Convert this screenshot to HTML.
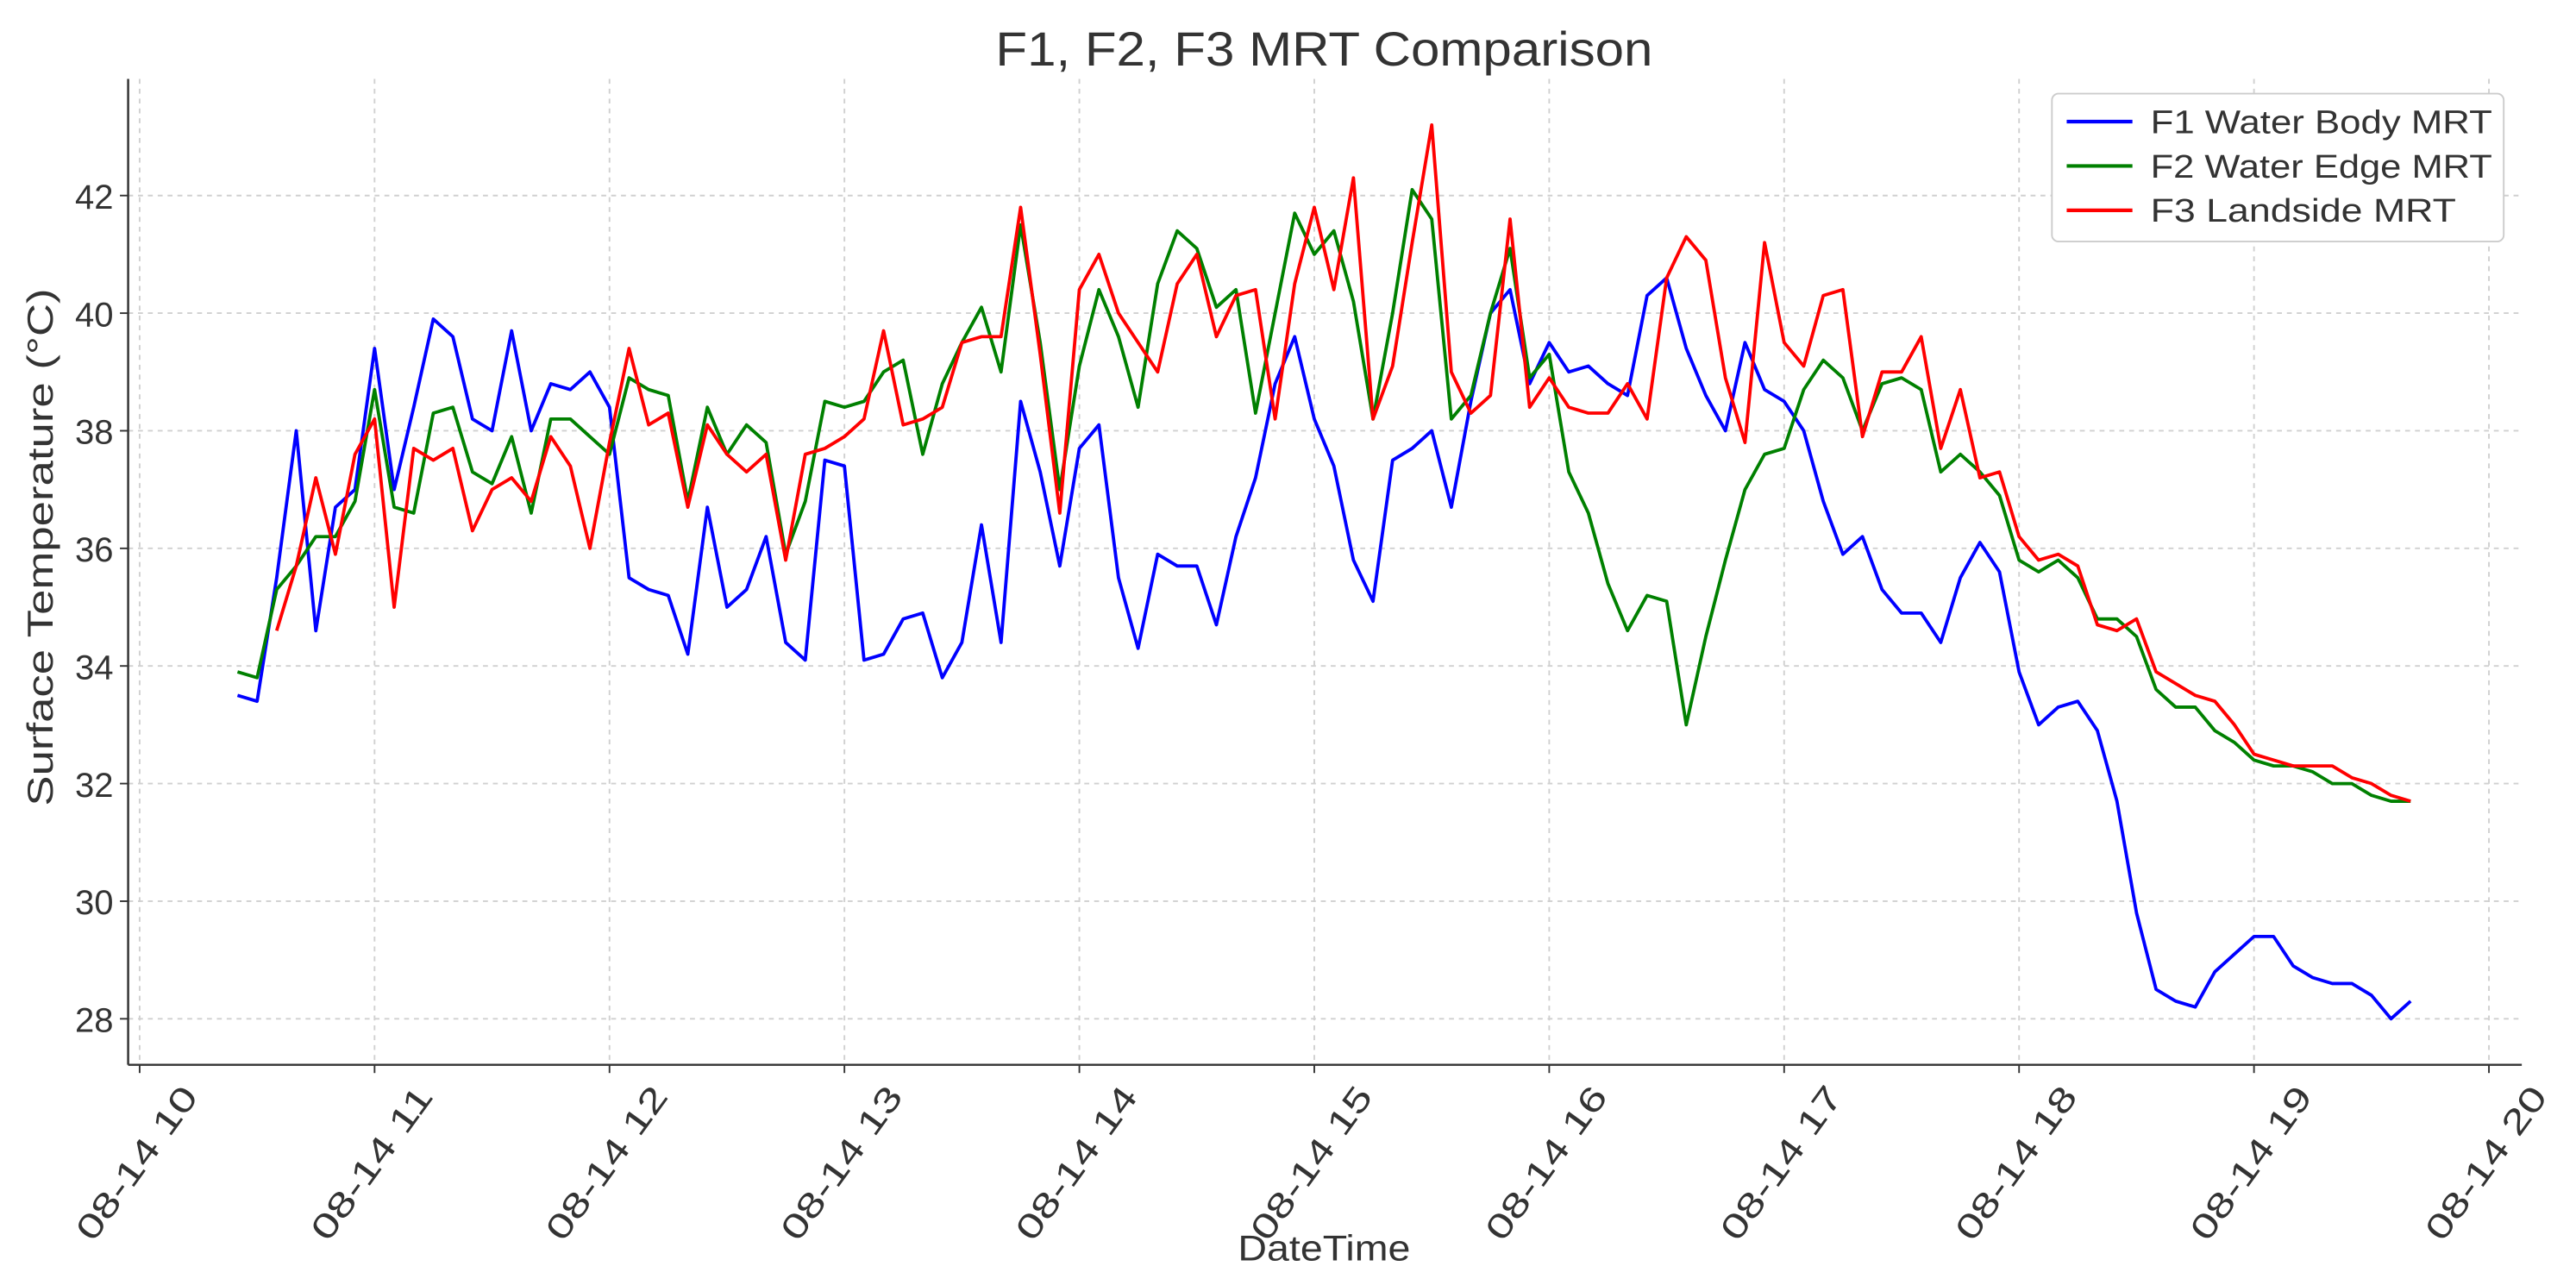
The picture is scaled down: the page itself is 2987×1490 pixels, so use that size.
<!DOCTYPE html>
<html><head><meta charset="utf-8"><style>html,body{margin:0;padding:0;background:#fff}svg{display:block}</style></head>
<body>
<svg id="chart" width="2987" height="1490" viewBox="0 0 1568 782" preserveAspectRatio="none" xmlns="http://www.w3.org/2000/svg" font-family="Liberation Sans, DejaVu Sans, sans-serif">
<rect width="1568" height="782" fill="#fff"/>
<g id="grid"></g>
<g id="lines"></g>
<g id="axes"></g>
<text x="806" y="40" font-size="29" text-anchor="middle" fill="#333" textLength="400" lengthAdjust="spacingAndGlyphs">F1, F2, F3 MRT Comparison</text>
<text x="806" y="767" font-size="22" text-anchor="middle" fill="#333" textLength="105" lengthAdjust="spacingAndGlyphs">DateTime</text>
<text transform="translate(32,333) rotate(-90)" font-size="22" text-anchor="middle" fill="#333" textLength="315" lengthAdjust="spacingAndGlyphs">Surface Temperature (°C)</text>
<g id="legend">
<rect x="1249" y="57" width="275" height="90" rx="4" fill="#fff" stroke="#ccc"/>
</g>
</svg>
<script>
const startMinutes = 625; // 10:25
const stepMinutes = 5;
const yTicks = [28,30,32,34,36,38,40,42];
const xTickHours = [10,11,12,13,14,15,16,17,18,19,20];
const xTickLabels = ["08-14 10","08-14 11","08-14 12","08-14 13","08-14 14","08-14 15","08-14 16","08-14 17","08-14 18","08-14 19","08-14 20"];
const seriesNames = ["F1 Water Body MRT","F2 Water Edge MRT","F3 Landside MRT"];
const seriesColors = ["#0000ff","#008000","#ff0000"];
const f1 = [33.5,33.4,35.5,38.0,34.6,36.7,37.0,39.4,37.0,38.4,
39.9,39.6,38.2,38.0,39.7,38.0,38.8,38.7,39.0,38.4,
35.5,35.3,35.2,34.2,36.7,35.0,35.3,36.2,34.4,34.1,
37.5,37.4,34.1,34.2,34.8,34.9,33.8,34.4,36.4,34.4,
38.5,37.3,35.7,37.7,38.1,35.5,34.3,35.9,35.7,35.7,
34.7,36.2,37.2,38.8,39.6,38.2,37.4,35.8,35.1,37.5,
37.7,38.0,36.7,38.5,40.0,40.4,38.8,39.5,39.0,39.1,
38.8,38.6,40.3,40.6,39.4,38.6,38.0,39.5,38.7,38.5,
38.0,36.8,35.9,36.2,35.3,34.9,34.9,34.4,35.5,36.1,
35.6,33.9,33.0,33.3,33.4,32.9,31.7,29.8,28.5,28.3,
28.2,28.8,29.1,29.4,29.4,28.9,28.7,28.6,28.6,28.4,
28.0,28.3];
const f2 = [33.9,33.8,35.3,35.7,36.2,36.2,36.8,38.7,36.7,36.6,
38.3,38.4,37.3,37.1,37.9,36.6,38.2,38.2,37.9,37.6,
38.9,38.7,38.6,36.8,38.4,37.6,38.1,37.8,35.9,36.8,
38.5,38.4,38.5,39.0,39.2,37.6,38.8,39.5,40.1,39.0,
41.5,39.5,37.0,39.1,40.4,39.6,38.4,40.5,41.4,41.1,
40.1,40.4,38.3,40.0,41.7,41.0,41.4,40.2,38.2,40.0,
42.1,41.6,38.2,38.6,40.0,41.1,38.9,39.3,37.3,36.6,
35.4,34.6,35.2,35.1,33.0,34.5,35.8,37.0,37.6,37.7,
38.7,39.2,38.9,38.0,38.8,38.9,38.7,37.3,37.6,37.3,
36.9,35.8,35.6,35.8,35.5,34.8,34.8,34.5,33.6,33.3,
33.3,32.9,32.7,32.4,32.3,32.3,32.2,32.0,32.0,31.8,
31.7,31.7];
const f3 = [null,null,34.6,35.7,37.2,35.9,37.6,38.2,35.0,37.7,
37.5,37.7,36.3,37.0,37.2,36.8,37.9,37.4,36.0,37.8,
39.4,38.1,38.3,36.7,38.1,37.6,37.3,37.6,35.8,37.6,
37.7,37.9,38.2,39.7,38.1,38.2,38.4,39.5,39.6,39.6,
41.8,39.3,36.6,40.4,41.0,40.0,39.5,39.0,40.5,41.0,
39.6,40.3,40.4,38.2,40.5,41.8,40.4,42.3,38.2,39.1,
41.2,43.2,39.0,38.3,38.6,41.6,38.4,38.9,38.4,38.3,
38.3,38.8,38.2,40.6,41.3,40.9,38.9,37.8,41.2,39.5,
39.1,40.3,40.4,37.9,39.0,39.0,39.6,37.7,38.7,37.2,
37.3,36.2,35.8,35.9,35.7,34.7,34.6,34.8,33.9,33.7,
33.5,33.4,33.0,32.5,32.4,32.3,32.3,32.3,32.1,32.0,
31.8,31.7];
const allSeries = [f1,f2,f3];

const NS = "http://www.w3.org/2000/svg";
const L = 78, R = 1535, T = 48, B = 648;
function xScale(minutes){ return 85 + (minutes - 600) * 143 / 60; }
function yScale(v){ return 119 + (42 - v) * (620 - 119) / 14; }
function mk(tag, attrs, parent){ const e = document.createElementNS(NS, tag); for (const k in attrs) e.setAttribute(k, attrs[k]); parent.appendChild(e); return e; }

const grid = document.getElementById('grid');
const axes = document.getElementById('axes');
yTicks.forEach(v => {
  const y = yScale(v);
  const g = mk('line', {x1:L, x2:R, y1:y, y2:y, stroke:'#d0d0d0', 'stroke-width':1, 'stroke-dasharray':'3,3'}, grid);
  
  
  const t = mk('line', {x1:L-5, x2:L, y1:y, y2:y, stroke:'#333', 'stroke-width':1}, axes);
  
  
  const lb = mk('text', {x:L-9, y:y+8, 'font-size':21, 'text-anchor':'end', fill:'#333'}, axes);
  
  
  lb.textContent = String(v);
});
xTickHours.forEach((h, i) => {
  const x = xScale(h * 60);
  const g = mk('line', {x1:x, x2:x, y1:T, y2:B, stroke:'#d0d0d0', 'stroke-width':1, 'stroke-dasharray':'3,3'}, grid);
  
  
  const t = mk('line', {x1:x, x2:x, y1:B, y2:B+5, stroke:'#333', 'stroke-width':1}, axes);
  
  
  const lb = mk('text', {transform:`translate(${x+4},${B+64}) rotate(-54)`, 'font-size':21, 'text-anchor':'middle', fill:'#333', textLength:110, lengthAdjust:'spacingAndGlyphs'}, axes);
  
  
  lb.textContent = xTickLabels[i];
});
const sp1 = mk('line', {x1:L, x2:L, y1:T, y2:B, stroke:'#333', 'stroke-width':1.3}, axes);


const sp2 = mk('line', {x1:L, x2:R, y1:B, y2:B, stroke:'#333', 'stroke-width':1.3}, axes);



const lines = document.getElementById('lines');
allSeries.forEach((s, si) => {
  let d = '';
  s.forEach((v, i) => {
    if (v === null) return;
    const x = xScale(startMinutes + i * stepMinutes), y = yScale(v);
    d += (d === '' ? 'M' : 'L') + x.toFixed(2) + ',' + y.toFixed(2);
  });
  const p = mk('path', {d:d, fill:'none', stroke:seriesColors[si], 'stroke-width':2, 'stroke-linejoin':'round'}, lines);
  
  
});

const legend = document.getElementById('legend');
seriesNames.forEach((n, i) => {
  const y = 74 + i * 27;
  const ln = mk('line', {x1:1258, x2:1298, y1:y, y2:y, stroke:seriesColors[i], 'stroke-width':2.2}, legend);
  
  
  const tx = mk('text', {x:1309, y:y+7, 'font-size':20, fill:'#333', textLength:[208,208,186][i], lengthAdjust:'spacingAndGlyphs'}, legend);
  
  
  tx.textContent = n;
});
</script>
</body></html>
